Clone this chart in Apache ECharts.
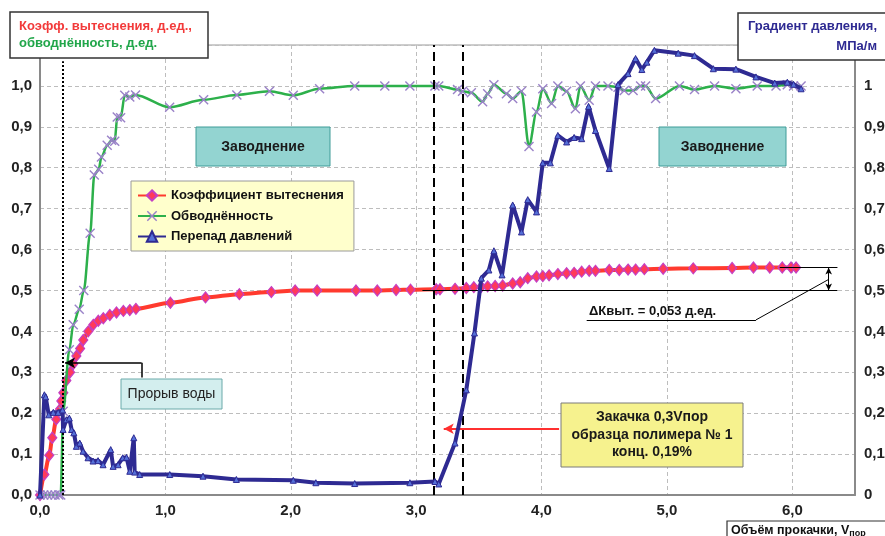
<!DOCTYPE html>
<html><head><meta charset="utf-8">
<script src="https://cdn.jsdelivr.net/npm/echarts@6/dist/echarts.min.js"></script>
<style>html,body{margin:0;padding:0;background:#fff}#c{width:885px;height:536px}</style>
</head><body><div id="c"></div>
<script>
// ---- data (x = pore volumes pumped, y = fraction / MPa per m) ----
const seriesNames = ['Коэффициент вытеснения', 'Обводнённость', 'Перепад давлений'];

const displacement = [[0,0],[0.035,0.05],[0.074,0.097],[0.098,0.14],[0.13,0.185],[0.16,0.21],[0.17,0.23],[0.186,0.25],[0.21,0.28],[0.24,0.30],[0.265,0.32],[0.29,0.34],[0.32,0.358],[0.345,0.379],[0.385,0.40],[0.425,0.416],[0.465,0.426],[0.505,0.432],[0.557,0.44],[0.61,0.446],[0.665,0.45],[0.716,0.452],[0.765,0.455],[1.04,0.47],[1.32,0.483],[1.59,0.491],[1.845,0.496],[2.035,0.5],[2.21,0.5],[2.52,0.5],[2.69,0.5],[2.84,0.501],[2.955,0.502],[3.16,0.503],[3.19,0.503],[3.31,0.504],[3.40,0.506],[3.46,0.508],[3.52,0.509],[3.57,0.51],[3.63,0.511],[3.69,0.512],[3.77,0.517],[3.83,0.52],[3.89,0.53],[3.96,0.534],[4.01,0.535],[4.06,0.537],[4.13,0.54],[4.20,0.542],[4.26,0.543],[4.32,0.546],[4.38,0.548],[4.43,0.548],[4.54,0.55],[4.62,0.55],[4.69,0.551],[4.75,0.551],[4.82,0.552],[4.97,0.553],[5.21,0.554],[5.52,0.555],[5.69,0.556],[5.82,0.556],[5.92,0.556],[5.99,0.556],[6.03,0.556]];

const watercut = [[0,0],[0.03,0],[0.06,0],[0.09,0],[0.12,0],[0.15,0],[0.165,0],[0.185,0.205],[0.234,0.355],[0.265,0.416],[0.313,0.454],[0.349,0.5],[0.40,0.64],[0.433,0.782],[0.468,0.796],[0.49,0.826],[0.536,0.855],[0.571,0.867],[0.596,0.865],[0.616,0.924],[0.643,0.922],[0.676,0.977],[0.716,0.973],[0.762,0.978],[1.034,0.948],[1.305,0.966],[1.57,0.978],[1.83,0.987],[2.02,0.977],[2.23,0.993],[2.51,1.0],[2.75,1.0],[2.95,1.0],[3.15,1.0],[3.18,1.0],[3.33,0.991],[3.37,0.987],[3.44,0.983],[3.53,0.961],[3.57,0.981],[3.62,1.003],[3.72,0.981],[3.77,0.969],[3.84,0.987],[3.90,0.852],[3.96,0.936],[4.01,0.993],[4.08,0.957],[4.13,1.0],[4.20,0.987],[4.27,0.944],[4.31,1.0],[4.38,0.965],[4.43,1.0],[4.53,1.0],[4.61,0.997],[4.66,0.989],[4.73,0.989],[4.79,1.0],[4.83,1.0],[4.91,0.969],[5.10,1.0],[5.22,0.991],[5.38,1.0],[5.55,0.993],[5.72,1.0],[5.87,1.0],[5.96,1.003],[6.01,1.0],[6.07,1.0]];

const pressure = [[0,0],[0.035,0.245],[0.045,0.24],[0.07,0.196],[0.106,0.202],[0.145,0.202],[0.18,0.208],[0.184,0.16],[0.21,0.184],[0.234,0.188],[0.252,0.16],[0.27,0.152],[0.29,0.119],[0.317,0.127],[0.343,0.107],[0.383,0.091],[0.423,0.083],[0.463,0.084],[0.503,0.074],[0.564,0.111],[0.583,0.07],[0.623,0.074],[0.66,0.091],[0.69,0.092],[0.716,0.058],[0.748,0.14],[0.755,0.056],[0.795,0.05],[1.035,0.05],[1.30,0.046],[1.566,0.038],[2.02,0.036],[2.2,0.03],[2.51,0.028],[2.95,0.03],[3.15,0.033],[3.18,0.027],[3.31,0.127],[3.40,0.257],[3.465,0.396],[3.52,0.53],[3.58,0.55],[3.62,0.597],[3.685,0.538],[3.77,0.709],[3.84,0.643],[3.89,0.722],[3.96,0.692],[4.01,0.812],[4.07,0.812],[4.13,0.879],[4.20,0.863],[4.26,0.874],[4.32,0.871],[4.375,0.95],[4.43,0.891],[4.54,0.798],[4.61,1.003],[4.69,1.03],[4.75,1.067],[4.80,1.04],[4.84,1.058],[4.90,1.087],[5.09,1.08],[5.22,1.074],[5.37,1.042],[5.55,1.041],[5.71,1.022],[5.86,1.007],[5.96,1.009],[6.01,1.004],[6.07,0.993]];

const xTickLabels = ['0,0','1,0','2,0','3,0','4,0','5,0','6,0'];
const leftTickLabels = ['0,0','0,1','0,2','0,3','0,4','0,5','0,6','0,7','0,8','0,9','1,0'];
const rightTickLabels = ['0','0,1','0,2','0,3','0,4','0,5','0,6','0,7','0,8','0,9','1'];

// annotation values
const polymerStart = 3.14, polymerEnd = 3.37, breakthroughX = 0.18;
const kBefore = 0.5, kAfter = 0.556;

// ---- chart ----
const FONT = '"Liberation Sans", Arial, Helvetica, sans-serif';
const chart = echarts.init(document.getElementById('c'));
const idxLabel = (arr, step) => v => {
  const i = Math.round(v / step);
  return Math.abs(v - i * step) < 1e-6 && i < arr.length ? arr[i] : '';
};
const crossPath = 'path://M1,0 L5,4 L9,0 L10,1 L6,5 L10,9 L9,10 L5,6 L1,10 L0,9 L4,5 L0,1 Z';
const blk = {color: '#000', width: 1, type: 'solid'};
const blk15 = {color: '#000', width: 1.5, type: 'solid'};

const option = {
  animation: false,
  backgroundColor: '#fff',
  textStyle: {fontFamily: FONT},
  grid: {left: 40, right: 30, top: 45, bottom: 41, show: true, borderColor: '#9a9a9a', borderWidth: 1, containLabel: false, outerBoundsMode: 'none'},
  legend: {
    left: 131, top: 181, orient: 'vertical',
    padding: [8, 10, 8, 6], itemGap: 7.5, itemWidth: 28, itemHeight: 13,
    backgroundColor: '#FFFFCC', borderColor: '#9a9a9a', borderWidth: 1,
    textStyle: {fontFamily: FONT, fontWeight: 'bold', fontSize: 13, color: '#111'},
    data: seriesNames
  },
  xAxis: {
    type: 'value', min: 0, max: 6.5, interval: 1,
    axisLine: {lineStyle: {color: '#8a8a8a', width: 2}},
    axisTick: {show: false},
    splitLine: {show: true, lineStyle: {color: '#bdbdbd', type: [4, 3], width: 1}},
    axisLabel: {formatter: idxLabel(xTickLabels, 1), fontFamily: FONT, fontWeight: 'bold', fontSize: 15, color: '#222', margin: 8}
  },
  yAxis: [{
    type: 'value', min: 0, max: 1.1, interval: 0.1, position: 'left',
    axisLine: {show: true, lineStyle: {color: '#8a8a8a', width: 2}},
    axisTick: {show: false},
    splitLine: {show: true, lineStyle: {color: '#bdbdbd', type: [4, 3], width: 1}},
    axisLabel: {formatter: idxLabel(leftTickLabels, 0.1), fontFamily: FONT, fontWeight: 'bold', fontSize: 15, color: '#222', margin: 8}
  }, {
    type: 'value', min: 0, max: 1.1, interval: 0.1, position: 'right',
    axisLine: {show: true, lineStyle: {color: '#8a8a8a', width: 2}},
    axisTick: {show: false},
    splitLine: {show: false},
    axisLabel: {formatter: idxLabel(rightTickLabels, 0.1), fontFamily: FONT, fontWeight: 'bold', fontSize: 15, color: '#222', margin: 9}
  }],
  series: [{
    name: seriesNames[0], type: 'line', yAxisIndex: 0, data: displacement,
    smooth: 0.3, smoothMonotone: 'x', z: 3,
    lineStyle: {color: '#FF3A2E', width: 4},
    symbol: 'diamond', symbolSize: [9, 11],
    itemStyle: {color: '#FF3A5A', borderColor: '#C43FC4', borderWidth: 1.2},
    markLine: {
      silent: true, symbol: 'none', label: {show: false}, animation: false,
      lineStyle: {color: '#000', width: 1, type: 'solid'},
      emphasis: {disabled: true},
      data: [
        [{coord: [polymerStart, 0], lineStyle: {color: '#000', width: 2, type: [9, 5]}}, {coord: [polymerStart, 1.1]}],
        [{coord: [polymerEnd, 0], lineStyle: {color: '#000', width: 2, type: [9, 5]}}, {coord: [polymerEnd, 1.1]}],
        [{coord: [breakthroughX, 0], lineStyle: {color: '#000', width: 2, type: [2, 2]}}, {coord: [breakthroughX, 1.06]}],
        [{coord: [3.05, kBefore], lineStyle: blk}, {coord: [6.36, kBefore]}],
        [{coord: [5.9, kAfter], lineStyle: blk}, {coord: [6.36, kAfter]}],
        [{coord: [6.29, kAfter], lineStyle: blk, symbol: 'arrow', symbolSize: [5, 7]}, {coord: [6.29, kBefore], symbol: 'arrow', symbolSize: [5, 7]}],
        [{coord: [6.29, 0.527], lineStyle: blk}, {coord: [5.71, 0.428]}],
        [{coord: [5.71, 0.428], lineStyle: blk}, {coord: [4.36, 0.428]}],
        [{coord: [0.81, 0.287], lineStyle: blk15}, {coord: [0.81, 0.323]}],
        [{coord: [0.81, 0.323], lineStyle: blk15}, {coord: [0.2, 0.323], symbol: 'arrow', symbolSize: [8, 10]}],
        [{coord: [4.14, 0.162], lineStyle: {color: '#FF3030', width: 2, type: 'solid'}}, {coord: [3.22, 0.162], symbol: 'arrow', symbolSize: [8, 10]}]
      ]
    }
  }, {
    name: seriesNames[1], type: 'line', yAxisIndex: 0, data: watercut,
    smooth: 0.3, smoothMonotone: 'x', z: 4,
    lineStyle: {color: '#2DB04B', width: 2.5},
    symbol: crossPath, symbolSize: 10,
    itemStyle: {color: '#9A82C8'}
  }, {
    name: seriesNames[2], type: 'line', yAxisIndex: 1, data: pressure,
    smooth: false, z: 5,
    lineStyle: {color: '#2E2A92', width: 4},
    symbol: 'triangle', symbolSize: 6,
    itemStyle: {color: '#5570D8', borderColor: '#2E2A92', borderWidth: 1}
  }],
  graphic: [
    // left title box
    {type: 'rect', z: 100, shape: {x: 10, y: 12, width: 198, height: 46}, style: {fill: '#fff', stroke: '#333', lineWidth: 1.5}},
    {type: 'text', z: 101, left: 19, top: 20, style: {text: 'Коэфф. вытеснения, д.ед.,', fill: '#F23A3A', font: 'bold 13px ' + FONT}},
    {type: 'text', z: 101, left: 19, top: 37, style: {text: 'обводнённость, д.ед.', fill: '#21A64A', font: 'bold 13px ' + FONT}},
    // right title box
    {type: 'rect', z: 100, shape: {x: 738, y: 13, width: 160, height: 47}, style: {fill: '#fff', stroke: '#333', lineWidth: 1.5}},
    {type: 'text', z: 101, x: 877, y: 20, style: {text: 'Градиент давления,', fill: '#2E2A92', font: 'bold 13px ' + FONT, align: 'right'}},
    {type: 'text', z: 101, x: 877, y: 40, style: {text: 'МПа/м', fill: '#2E2A92', font: 'bold 13px ' + FONT, align: 'right'}},
    // x axis title box
    {type: 'rect', z: 100, shape: {x: 727, y: 521, width: 170, height: 22}, style: {fill: '#fff', stroke: '#333', lineWidth: 1.2}},
    {type: 'text', z: 101, x: 731, y: 523, style: {
      text: '{m|Объём прокачки, V}{s|пор}',
      rich: {m: {font: 'bold 12.5px ' + FONT, fill: '#111'}, s: {font: 'bold 9px ' + FONT, fill: '#111', padding: [6, 0, 0, 0]}}
    }},
    // waterflood boxes
    {type: 'rect', z: 100, shape: {x: 196, y: 127, width: 134, height: 39}, style: {fill: '#93D4D1', stroke: '#3E9C98', lineWidth: 1}},
    {type: 'text', z: 101, x: 263, y: 147, style: {text: 'Заводнение', font: 'bold 14px ' + FONT, fill: '#1a1a1a', align: 'center', verticalAlign: 'middle'}},
    {type: 'rect', z: 100, shape: {x: 659, y: 127, width: 127, height: 39}, style: {fill: '#93D4D1', stroke: '#3E9C98', lineWidth: 1}},
    {type: 'text', z: 101, x: 722.5, y: 147, style: {text: 'Заводнение', font: 'bold 14px ' + FONT, fill: '#1a1a1a', align: 'center', verticalAlign: 'middle'}},
    // breakthrough box
    {type: 'rect', z: 100, shape: {x: 121, y: 379, width: 101, height: 30}, style: {fill: '#D3EEEE', stroke: '#6AAAAA', lineWidth: 1}},
    {type: 'text', z: 101, x: 171.5, y: 394, style: {text: 'Прорыв воды', font: '14px ' + FONT, fill: '#222', align: 'center', verticalAlign: 'middle'}},
    // polymer box
    {type: 'rect', z: 100, shape: {x: 561, y: 403, width: 182, height: 64}, style: {fill: '#F6F28E', stroke: '#7a7a7a', lineWidth: 1}},
    {type: 'text', z: 101, x: 652, y: 435, style: {text: 'Закачка 0,3Vпор\nобразца полимера № 1\nконц. 0,19%', font: 'bold 14px ' + FONT, fill: '#1a1a1a', align: 'center', verticalAlign: 'middle', lineHeight: 17.5}},
    // delta K label
    {type: 'text', z: 101, x: 589, y: 311, style: {text: 'ΔКвыт. = 0,053 д.ед.', font: 'bold 13px ' + FONT, fill: '#111', verticalAlign: 'middle'}}
  ]
};
chart.setOption(option);
</script>
</body></html>
